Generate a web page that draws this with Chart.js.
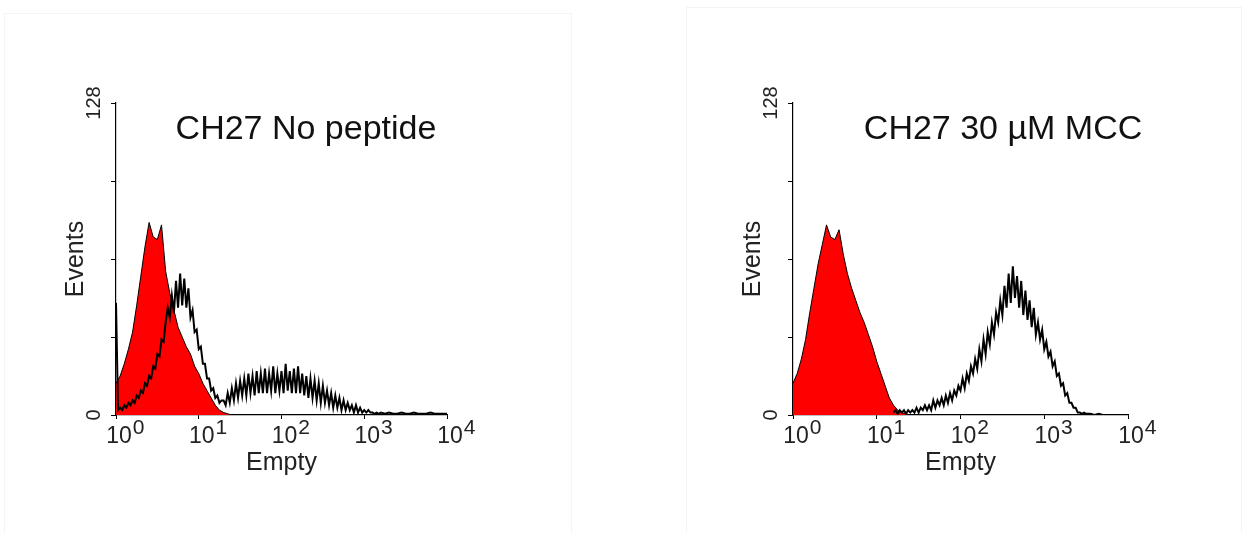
<!DOCTYPE html>
<html>
<head>
<meta charset="utf-8">
<script src="https://cdn.jsdelivr.net/npm/chart.js@4"></script>
<style>
html,body{margin:0;padding:0;background:#fff;width:1245px;height:533px;overflow:hidden;}
.panel{position:absolute;border:1px solid #f4f4f4;border-bottom:none;}
canvas{position:absolute;top:0;}
</style>
</head>
<body>
<div class="panel" style="left:4px;top:13px;width:566px;height:520px;"></div>
<div class="panel" style="left:686px;top:7px;width:554px;height:526px;"></div>
<canvas id="c1" style="left:0px" width="622" height="533"></canvas>
<canvas id="c2" style="left:622px" width="623" height="533"></canvas>
<script>
// ---- data (x positions in log10 decades of fluorescence, y = events) ----
const titles = ["CH27 No peptide", "CH27 30 \u00b5M MCC"];
const xTickDecades = [0, 1, 2, 3, 4];
const yTickValues = [0, 32, 64, 96, 128];
const yTickLabels = ["0", "", "", "", "128"];
const xAxisTitle = "Empty";
const yAxisTitle = "Events";

// red (filled) histograms, step 0.05 decade
const redDecades = [0,0.05,0.1,0.15,0.2,0.25,0.3,0.35,0.4,0.45,0.5,0.55,0.6,0.65,0.7,0.75,0.8,0.85,0.9,0.95,1.0,1.05,1.1,1.15,1.2,1.25,1.3,1.35,1.4];
const redLeft  = [13,16,21,27,34,45,57,69,79,73,72,78,59,50,43,36,32,28,25,20,17,13,10,7,4,2,1,0.5,0];
const redRight = [13,17,23,31,42,52,62,70,78,73,72,76,66,58,52,47,42,38,33,28,22,17,12,7,4,2,1,0.5,0];

// black (open) histograms
const blackLeftDecades = [0,0.025,0.05,0.075,0.1,0.125,0.15,0.175,0.2,0.225,0.25,0.275,0.3,0.325,0.35,0.375,0.4,0.425,0.45,0.475,0.5,0.525,0.55,0.575,0.6,0.625,0.65,0.675,0.7,0.725,0.75,0.775,0.8,0.825,0.85,0.875,0.9,0.925,0.95,0.975,1.0,1.025,1.05,1.075,1.1,1.125,1.15,1.175,1.2,1.225,1.25,1.275,1.3,1.325,1.35,1.375,1.4,1.425,1.45,1.475,1.5,1.525,1.55,1.575,1.6,1.625,1.65,1.675,1.7,1.725,1.75,1.775,1.8,1.825,1.85,1.875,1.9,1.925,1.95,1.975,2.0,2.025,2.05,2.075,2.1,2.125,2.15,2.175,2.2,2.225,2.25,2.275,2.3,2.325,2.35,2.375,2.4,2.425,2.45,2.475,2.5,2.525,2.55,2.575,2.6,2.625,2.65,2.675,2.7,2.725,2.75,2.775,2.8,2.825,2.85,2.875,2.9,2.925,2.95,2.975,3.0,3.025,3.05,3.075,3.1,3.125,3.15,3.175,3.2,3.25,3.3,3.35,3.4,3.45,3.5,3.55,3.6,3.65,3.7,3.75,3.8,3.85,3.9,3.95,4.0];
const blackLeft = [
  46,2,3,2,4,3,5,4,6,5,8,7,10,9,13,12,16,15,20,19,25,24,31,30,
  38,44,40,49,42,55,44,58,45,56,44,52,40,43,34,35,27,28,21,21,15,15,10,11,7,8,5,6,
  6,4,9,5,11,6,13,7,14,8,
  15,8,17,9,16,8,18,9,17,9,
  19,9,17,10,20,9,17,10,18,9,
  21,10,18,9,19,9,20,9,17,8,
  16,7,15,7,14,6,13,5,12,5,
  10,4,9,3,8,3,7,2,6,2,
  5,2,4,1,4,1,3,1,2,
  1,2,1,1,0.5,1,0.5,1,
  0.5,1,0.5,0.5,1,0.5,0.5,1,0.5,0.5,0.5,1,0.5,0.5,0.5,0.5];

const blackRightDecades = [1.2,1.225,1.25,1.275,1.3,1.325,1.35,1.375,1.4,1.425,1.45,1.475,1.5,1.525,1.55,1.575,1.6,1.625,1.65,1.675,1.7,1.725,1.75,1.775,1.8,1.825,1.85,1.875,1.9,1.925,1.95,1.975,2.0,2.025,2.05,2.075,2.1,2.125,2.15,2.175,2.2,2.225,2.25,2.275,2.3,2.325,2.35,2.375,2.4,2.425,2.45,2.475,2.5,2.525,2.55,2.575,2.6,2.625,2.65,2.675,2.7,2.725,2.75,2.775,2.8,2.825,2.85,2.875,2.9,2.925,2.95,2.975,3.0,3.025,3.05,3.075,3.1,3.125,3.15,3.175,3.2,3.225,3.25,3.275,3.3,3.325,3.35,3.375,3.4,3.425,3.45,3.475,3.5,3.55,3.6,3.65,3.7,3.8,3.9,4.0];
const blackRight = [
  1,2,0.5,2,1,2,0.5,2,1,2,
  1,3,1,3,2,4,2,4,2,6,
  3,6,4,7,4,8,5,9,6,10,
  8,12,10,15,11,17,14,20,17,23,
  19,27,22,31,25,34,29,38,33,42,
  38,47,41,53,44,58,46,61,48,57,
  44,55,41,51,39,47,36,44,33,38,
  31,35,27,30,24,26,20,22,16,17,
  12,13,8,9,5,5,3,3,1,1,
  0.5,1,0.5,
  0.5,0,0.5,0,0,0,0];

const panels = [
  {canvas:"c1", red:redLeft, black:blackLeft, blackX:blackLeftDecades, title:titles[0], padL:61, padR:175, titleFrac:0.574},
  {canvas:"c2", red:redRight, black:blackRight, blackX:blackRightDecades, title:titles[1], padL:116, padR:117, titleFrac:0.627}
];

const toPts = (xs, ys) => xs.map((d, i) => ({x: Math.pow(10, d), y: ys[i]}));
const FONT = "'Liberation Sans', Arial, sans-serif";

const decorPlugin = {
  id: 'decor',
  afterDraw(chart, args, opts) {
    const ctx = chart.ctx, xs = chart.scales.x, ys = chart.scales.y, area = chart.chartArea;
    ctx.save();
    ctx.fillStyle = '#222';
    // x tick labels 10^n with superscript exponent
    xTickDecades.forEach(n => {
      const px = xs.getPixelForValue(Math.pow(10, n));
      ctx.font = "23px " + FONT;
      ctx.textAlign = 'center';
      ctx.textBaseline = 'alphabetic';
      const base = "10";
      const w = ctx.measureText(base).width;
      ctx.fillText(base, px + 3, 443);
      ctx.font = "21px " + FONT;
      ctx.textAlign = 'left';
      ctx.fillText(String(n), px + 3 + w / 2 + 1, 434);
    });
    // y tick labels, rotated and centred on their ticks
    ctx.font = "20px " + FONT;
    ctx.textAlign = 'center';
    ctx.textBaseline = 'alphabetic';
    yTickValues.forEach((v, i) => {
      if (!yTickLabels[i]) return;
      const py = ys.getPixelForValue(v);
      ctx.save();
      ctx.translate(area.left - 16, py);
      ctx.rotate(-Math.PI / 2);
      ctx.fillText(yTickLabels[i], 0, 0);
      ctx.restore();
    });
    // in-plot title
    ctx.font = "34px " + FONT;
    ctx.fillStyle = '#111';
    ctx.textAlign = 'center';
    ctx.fillText(opts.text, area.left + opts.frac * (area.right - area.left), 139);
    ctx.restore();
  }
};

panels.forEach(p => {
  new Chart(document.getElementById(p.canvas), {
    type: 'line',
    data: {
      datasets: [
        {data: toPts(redDecades, p.red), fill: 'origin', backgroundColor: '#ff0000', borderColor: '#000', borderWidth: 1, pointRadius: 0, tension: 0, order: 2},
        {data: toPts(p.blackX, p.black), fill: false, borderColor: '#000', borderWidth: 2, pointRadius: 0, tension: 0, order: 1}
      ]
    },
    options: {
      responsive: false,
      animation: false,
      events: [],
      layout: {padding: {left: p.padL, right: p.padR, top: 103, bottom: 38}},
      plugins: {legend: {display: false}, tooltip: {enabled: false}, decor: {text: p.title, frac: p.titleFrac}},
      scales: {
        x: {
          type: 'logarithmic', min: 1, max: 10000,
          afterBuildTicks: s => { s.ticks = xTickDecades.map(n => ({value: Math.pow(10, n), major: true})); },
          afterFit: s => { s.height = 80; },
          grid: {display: true, drawOnChartArea: false, drawTicks: true, tickLength: 4, color: '#000'},
          border: {display: true, color: '#000', width: 1.2},
          ticks: {display: true, callback: () => '', autoSkip: false, maxRotation: 0},
          title: {display: true, text: xAxisTitle, color: '#222', font: {family: FONT, size: 25}, padding: {top: 0, bottom: 17}}
        },
        y: {
          type: 'linear', min: 0, max: 128,
          afterBuildTicks: s => { s.ticks = yTickValues.map(v => ({value: v})); },
          afterFit: s => { s.width = 55; },
          grid: {display: true, drawOnChartArea: false, drawTicks: true, tickLength: 5, color: '#000'},
          border: {display: true, color: '#000', width: 1.2},
          ticks: {autoSkip: false, callback: () => '', padding: 15, font: {family: FONT, size: 20}},
          title: {display: true, text: yAxisTitle, color: '#222', font: {family: FONT, size: 25}, padding: {top: 0, bottom: 0}}
        }
      }
    },
    plugins: [decorPlugin]
  });
});
</script>
</body>
</html>
